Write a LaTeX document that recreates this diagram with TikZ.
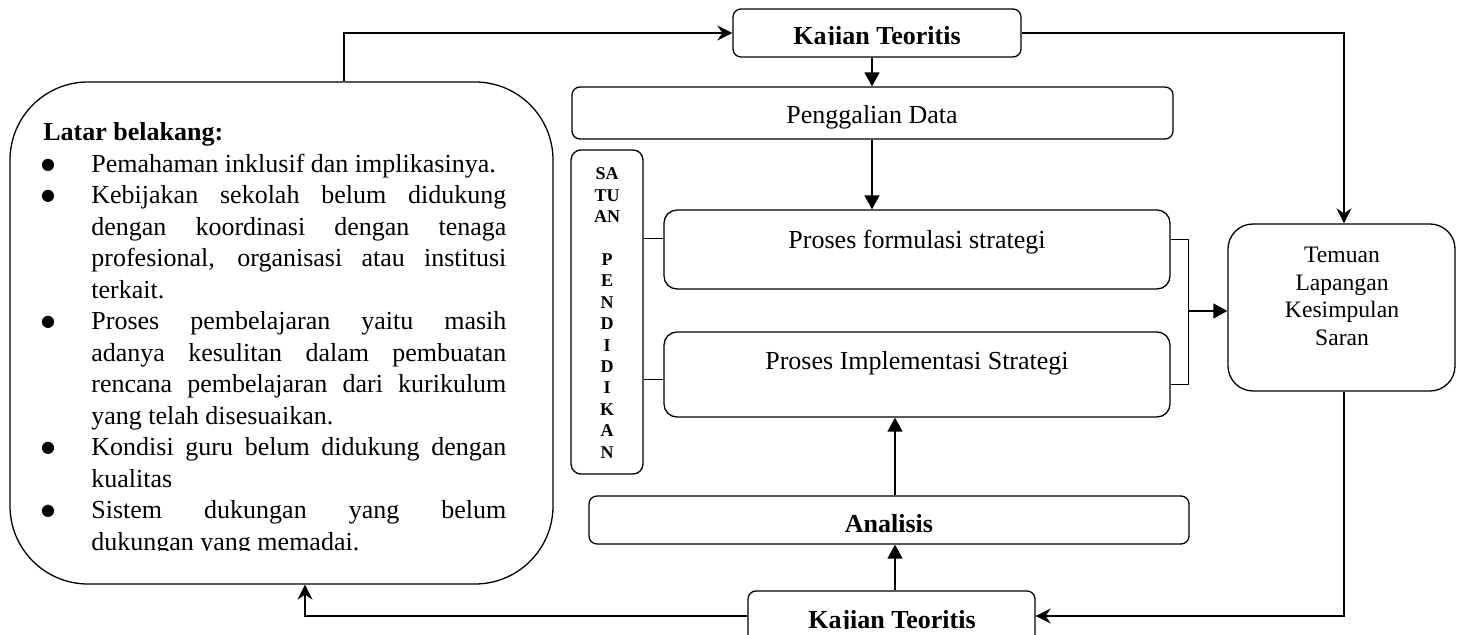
\documentclass[tikz,border=0pt]{standalone}
\usepackage{fontspec}
\setmainfont{Liberation Serif}
\newfontfamily\symfont{DejaVu Sans}
\usetikzlibrary{arrows.meta}
\newcommand{\jline}[1]{\makebox[207.5pt][s]{#1}}
\begin{document}
\begin{tikzpicture}[x=0.5pt,y=-0.5pt,
  box/.style={draw, line width=0.65pt, inner sep=0pt, anchor=center},
  conn/.style={line width=0.75pt},
  thin/.style={line width=0.5pt},
  tri/.style={conn, -{Triangle[length=7pt,width=7.5pt]}},
  stl/.style={conn, -{Stealth[length=7.5pt,width=7.5pt,inset=2.5pt]}},
  txt/.style={inner sep=0pt, anchor=base, font=\fontsize{13}{15}\selectfont},
  btxt/.style={txt, font=\fontsize{13}{15}\selectfont\bfseries},
  lt/.style={inner sep=0pt, anchor=base west, font=\fontsize{13}{15}\selectfont},
  bul/.style={inner sep=0pt, anchor=center, font=\fontsize{8}{8}\symfont},
  stxt/.style={inner sep=0pt, anchor=base, font=\fontsize{9}{10}\selectfont\bfseries},
  ttxt/.style={inner sep=0pt, anchor=base, font=\fontsize{11.8}{14}\selectfont}]
\useasboundingbox (0,0) rectangle (1460,635);

% boxes
\node[box, rounded corners=39pt, minimum width=271.5pt, minimum height=251pt] (lb) at (281.5,333) {};
\node[box, rounded corners=4pt, minimum width=144pt, minimum height=24pt] (kt1) at (877,33) {};
\node[box, rounded corners=4pt, minimum width=300.5pt, minimum height=26pt] (pd) at (872.5,113) {};
\node[box, rounded corners=5pt, minimum width=36pt, minimum height=162pt] (sat) at (607,312) {};
\node[box, rounded corners=6.5pt, minimum width=253pt, minimum height=39.5pt] (pf) at (917,249.5) {};
\node[box, rounded corners=6.5pt, minimum width=253pt, minimum height=42.5pt] (pi) at (917,374.5) {};
\node[box, rounded corners=12.5pt, minimum width=113.5pt, minimum height=83.5pt] (tm) at (1341.5,307.5) {};
\node[box, rounded corners=4pt, minimum width=300pt, minimum height=24pt] (an) at (889,520) {};
\node[box, rounded corners=4pt, minimum width=143.5pt, minimum height=29.5pt] (kt2) at (891.5,620.5) {};

% texts
\begin{scope}
\clip (733,9) rectangle (1021,45);
\node[btxt] (tkt1) at (877,45) {Kajian Teoritis};
\end{scope}
\begin{scope}
\clip (748,591) rectangle (1035,628);
\node[btxt] (tkt2) at (892,628) {Kajian Teoritis};
\end{scope}
\node[txt] (tpd) at (872,124) {Penggalian Data};
\node[txt] (tpf) at (917,249) {Proses formulasi strategi};
\node[txt] (tpi) at (917,370) {Proses Implementasi Strategi};
\node[btxt] (tan) at (889,532) {Analisis};
\node[ttxt] (tm1) at (1342,263) {Temuan};
\node[ttxt] (tm2) at (1342,291) {Lapangan};
\node[ttxt] (tm3) at (1342,318) {Kesimpulan};
\node[ttxt] (tm4) at (1342,346) {Saran};

\foreach \t [count=\i from 0] in {SA,TU,AN,,P,E,N,D,I,D,I,K,A,N}
  \node[stxt] (s\i) at (607,180+21.4*\i) {\t};

% Latar belakang text
\begin{scope}
\clip (10,82) rectangle (553,550);
\node[lt, font=\fontsize{13}{15}\selectfont\bfseries] (l0) at (43,141) {Latar belakang:};
\node[bul] (b1) at (48,165) {●};
\node[lt] (l1) at (91,172.5) {Pemahaman inklusif dan implikasinya.};
\node[bul] (b2) at (48,196.4) {●};
\node[lt] (l2) at (91,203.9) {\jline{Kebijakan sekolah belum didukung}};
\node[lt] (l3) at (91,235.4) {\jline{dengan koordinasi dengan tenaga}};
\node[lt] (l4) at (91,266.8) {\jline{profesional, organisasi atau institusi}};
\node[lt] (l5) at (91,298.3) {terkait.};
\node[bul] (b3) at (48,322.3) {●};
\node[lt] (l6) at (91,329.8) {\jline{Proses pembelajaran yaitu masih}};
\node[lt] (l7) at (91,361.2) {\jline{adanya kesulitan dalam pembuatan}};
\node[lt] (l8) at (91,392.7) {\jline{rencana pembelajaran dari kurikulum}};
\node[lt] (l9) at (91,424.1) {yang telah disesuaikan.};
\node[bul] (b4) at (48,448.1) {●};
\node[lt] (l10) at (91,455.6) {\jline{Kondisi guru belum didukung dengan}};
\node[lt] (l11) at (91,487.1) {kualitas};
\node[bul] (b5) at (48,511) {●};
\node[lt] (l12) at (91,518.5) {\jline{Sistem dukungan yang belum}};
\node[lt] (l13) at (91,550) {dukungan yang memadai.};
\end{scope}

% helper coordinates
\coordinate (xa) at (344,0);
\coordinate (xb) at (872,0);
\coordinate (xr) at (1344,0);
\coordinate (xc) at (895,0);
\coordinate (xl) at (305,0);
\coordinate (ya) at (0,239);
\coordinate (yi) at (0,380);
\coordinate (yb) at (0,616);
\coordinate (br1) at (1188,240);
\coordinate (br2) at (1188,385);
\coordinate (br3) at (1188,311);

% connectors
\draw[stl] (lb.north -| xa) |- (kt1.west);
\draw[tri] (kt1.south -| xb) -- (pd.north -| xb);
\draw[tri] (pd.south -| xb) -- (pf.north -| xb);
\draw[stl] (kt1.east) -| (tm.north -| xr);
\draw[thin] (sat.east |- ya) -- (pf.west |- ya);
\draw[thin] (sat.east |- yi) -- (pi.west |- yi);
\draw[thin] (pf.east |- br1) -- (br1) -- (br2) -- (pi.east |- br2);
\draw[tri] (br3) -- (tm.west |- br3);
\draw[stl] (tm.south -| xr) -- (xr |- yb) -- (kt2.east |- yb);
\draw[stl] (kt2.west |- yb) -| (lb.south -| xl);
\draw[tri] (kt2.north -| xc) -- (an.south -| xc);
\draw[tri] (an.north -| xc) -- (pi.south -| xc);
\end{tikzpicture}
\end{document}
